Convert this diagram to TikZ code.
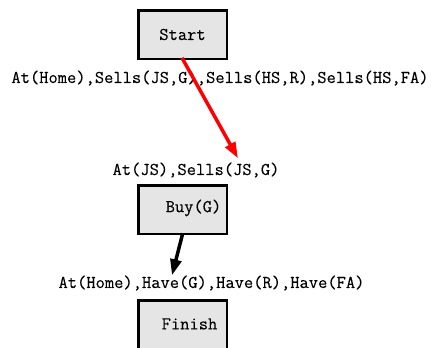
\documentclass[tikz,border=0pt]{standalone}
\usepackage{fontspec}
\usepackage{xcolor}
\usepackage{tikz}
\usetikzlibrary{arrows.meta,positioning,calc}
\setmonofont{Latin Modern Mono}[FakeBold=0.2]
\definecolor{boxL}{HTML}{E5E5E5}
\definecolor{linkR}{HTML}{FF0000}
\tikzset{
  act/.style  ={draw=black, fill=boxL, line width=2.5pt, minimum width=88.5pt,
                minimum height=48.5pt, outer sep=0pt, inner sep=0pt},
  actxt/.style={font=\fontsize{18}{20}\selectfont\ttfamily},
  cond/.style ={font=\fontsize{18}{20}\selectfont\ttfamily, inner sep=0pt},
  link/.style ={-{Triangle[length=16pt,width=11pt]}, line width=3.5pt, shorten <=-1pt},
}
\begin{document}
\begin{tikzpicture}[x=1pt,y=-1pt]
  \useasboundingbox (0,0) rectangle (437,348);
  \node[act, label={[actxt]center:Start}](start) at (182.5,34.5){};
  \node[cond](c0) at (220,78){At(Home),Sells(JS,G),Sells(HS,R),Sells(HS,FA)};
  \node[cond](c1) at (196,170){At(JS),Sells(JS,G)};
  \node[act, below=8pt of c1.south, xshift=-13.5pt, anchor=north,
        label={[actxt,xshift=11pt,yshift=2pt]center:Buy(G)}](buy){};
  \node[cond](c2) at (211.5,283){At(Home),Have(G),Have(R),Have(FA)};
  \node[act, below=10pt of c2.south, xshift=-29pt, anchor=north,
        label={[actxt,xshift=7pt,yshift=1pt]center:Finish}](fin){};
  % arrow tips sit just above the condition lists
  \coordinate (t1) at ($(c1.north)+(42,-4)$);
  \coordinate (t2) at ($(c2.north)+(-39.5,0)$);
  \draw[link, draw=linkR](start.south) -- (t1);
  \draw[link, draw=black](buy.south) -- (t2);
\end{tikzpicture}
\end{document}
